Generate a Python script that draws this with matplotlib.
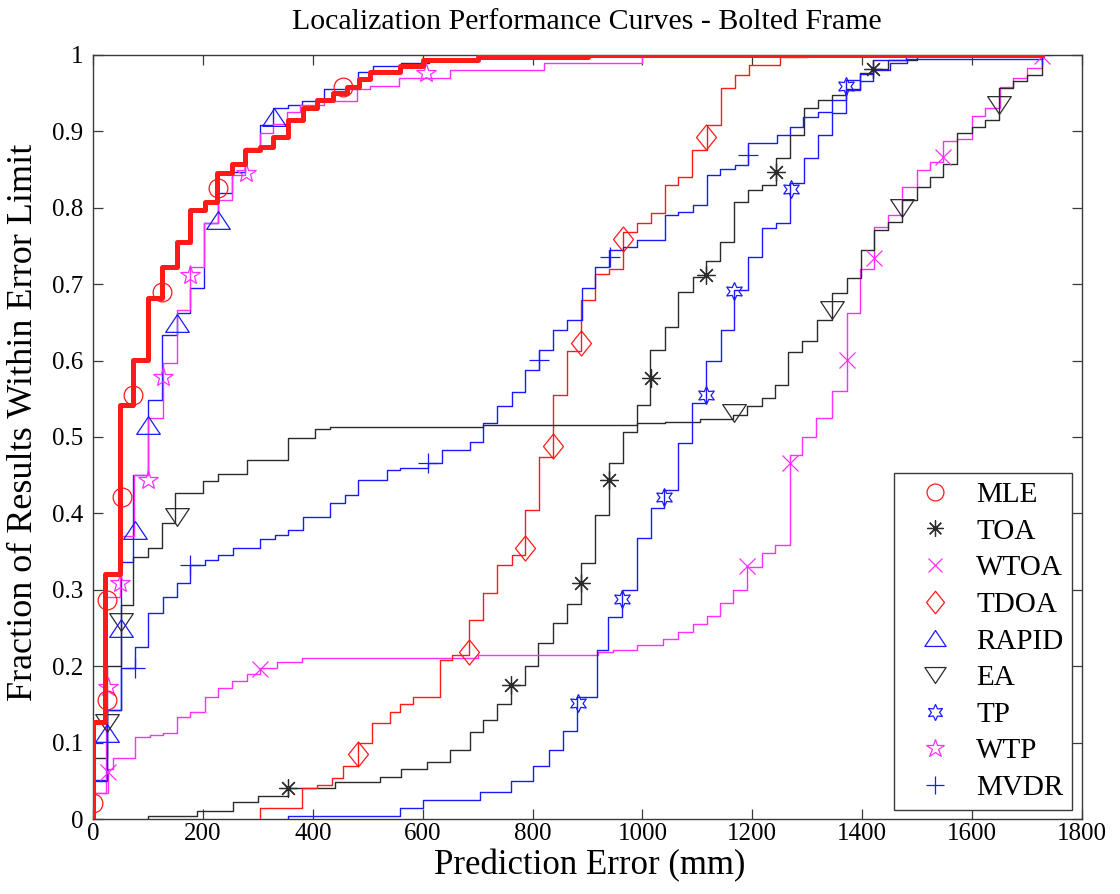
import matplotlib
matplotlib.use("Agg")
import matplotlib.pyplot as plt
from matplotlib.lines import Line2D
from matplotlib.path import Path

# ---- data (x = prediction error in mm, y = CDF) ----
mle_x = [0, 0, 22, 49, 73, 100, 126, 153, 177, 203, 226, 253, 277, 304, 328, 355, 382, 408, 437, 462,
         485, 504, 559, 600, 700, 900, 1727]
mle_y = [0, 0.127, 0.321, 0.542, 0.601, 0.682, 0.722, 0.755, 0.797, 0.807, 0.845, 0.857, 0.876, 0.88,
         0.893, 0.915, 0.93, 0.941, 0.95, 0.958, 0.968, 0.978, 0.985, 0.993, 0.998, 1.0, 1.0]
mle_mx = [0, 25, 25, 53, 73, 126, 228, 455]
mle_my = [0.021, 0.156, 0.287, 0.421, 0.555, 0.69, 0.826, 0.958]

toa_x = [100, 100, 189, 255, 300, 355, 440, 522, 560, 608, 650, 686, 710, 736, 760, 786, 810, 837, 862,
         888, 914, 939, 965, 990, 1014, 1041, 1065, 1092, 1116, 1141, 1167, 1192, 1218, 1243, 1269, 1294,
         1320, 1345, 1370, 1396, 1420, 1447, 1500, 1727]
toa_y = [0, 0.004, 0.01, 0.022, 0.03, 0.04, 0.048, 0.055, 0.065, 0.075, 0.09, 0.114, 0.13, 0.15, 0.175,
         0.2, 0.23, 0.256, 0.282, 0.335, 0.398, 0.466, 0.507, 0.542, 0.614, 0.644, 0.69, 0.71, 0.73, 0.755,
         0.808, 0.823, 0.83, 0.865, 0.895, 0.93, 0.941, 0.948, 0.955, 0.976, 0.982, 0.993, 1.0, 1.0]
toa_mx = [355, 760, 888, 939, 1015, 1116, 1243, 1420]
toa_my = [0.041, 0.175, 0.309, 0.444, 0.577, 0.712, 0.847, 0.982]

wtoa_x = [0, 0, 27, 36, 76, 104, 127, 153, 177, 204, 228, 253, 280, 304, 335, 380, 700, 920, 946, 990,
          1038, 1065, 1092, 1117, 1141, 1165, 1190, 1218, 1241, 1268, 1290, 1316, 1345, 1372, 1396, 1421,
          1447, 1472, 1499, 1523, 1547, 1572, 1600, 1623, 1650, 1675, 1700, 1727]
wtoa_y = [0, 0.034, 0.065, 0.08, 0.107, 0.11, 0.112, 0.134, 0.14, 0.16, 0.171, 0.18, 0.19, 0.198, 0.205,
          0.211, 0.215, 0.218, 0.221, 0.228, 0.236, 0.245, 0.255, 0.266, 0.283, 0.30, 0.33, 0.348, 0.359,
          0.476, 0.50, 0.525, 0.56, 0.662, 0.72, 0.775, 0.79, 0.827, 0.85, 0.86, 0.887, 0.89, 0.92, 0.93,
          0.958, 0.97, 0.983, 1.0]
wtoa_mx = [27, 304, 1190, 1268, 1372, 1421, 1547, 1727]
wtoa_my = [0.062, 0.196, 0.331, 0.466, 0.601, 0.734, 0.867, 0.999]

tdoa_x = [304, 304, 380, 407, 435, 455, 482, 508, 540, 559, 583, 632, 653, 684, 710, 736, 762, 786, 812,
          837, 862, 888, 914, 939, 965, 990, 1016, 1041, 1065, 1090, 1117, 1143, 1168, 1194, 1250, 1300, 1727]
tdoa_y = [0, 0.014, 0.04, 0.045, 0.054, 0.07, 0.1, 0.126, 0.14, 0.15, 0.16, 0.208, 0.215, 0.26, 0.296,
          0.332, 0.345, 0.404, 0.474, 0.555, 0.612, 0.679, 0.714, 0.72, 0.768, 0.78, 0.793, 0.83, 0.84,
          0.876, 0.908, 0.957, 0.974, 0.987, 0.997, 1.0, 1.0]
tdoa_mx = [482, 684, 786, 837, 888, 965, 1116]
tdoa_my = [0.085, 0.219, 0.355, 0.488, 0.623, 0.759, 0.893]

rapid_x = [0, 0, 25, 51, 73, 100, 126, 153, 177, 202, 228, 253, 277, 304, 328, 355, 380, 420, 482, 510,
           560, 612, 700, 1727]
rapid_y = [0, 0.051, 0.143, 0.336, 0.45, 0.548, 0.634, 0.662, 0.695, 0.78, 0.82, 0.847, 0.878, 0.908,
           0.93, 0.935, 0.94, 0.955, 0.978, 0.985, 0.99, 0.995, 1.0, 1.0]
rapid_mx = [25, 51, 76, 100, 153, 228, 330]
rapid_my = [0.112, 0.25, 0.378, 0.516, 0.649, 0.784, 0.919]

ea_x = [0, 0, 25, 51, 73, 100, 126, 149, 200, 228, 280, 355, 404, 431, 710, 990, 1041, 1105, 1165, 1190,
        1218, 1241, 1265, 1290, 1318, 1345, 1372, 1398, 1421, 1447, 1472, 1499, 1523, 1547, 1572, 1600,
        1623, 1649, 1675, 1700, 1727]
ea_y = [0, 0.08, 0.2, 0.28, 0.343, 0.355, 0.387, 0.427, 0.443, 0.452, 0.47, 0.499, 0.51, 0.513, 0.516,
        0.518, 0.52, 0.523, 0.529, 0.54, 0.551, 0.568, 0.611, 0.625, 0.653, 0.688, 0.708, 0.745, 0.771,
        0.781, 0.81, 0.827, 0.84, 0.857, 0.898, 0.906, 0.915, 0.957, 0.966, 0.974, 1.0]
ea_mx = [25, 51, 153, 1167, 1345, 1472, 1649]
ea_my = [0.126, 0.258, 0.395, 0.531, 0.666, 0.80, 0.935]

tp_x = [355, 355, 559, 601, 704, 760, 800, 830, 855, 880, 918, 938, 963, 990, 1015, 1040, 1065, 1090,
        1116, 1143, 1167, 1192, 1218, 1243, 1269, 1294, 1320, 1345, 1371, 1396, 1420, 1480, 1727]
tp_y = [0, 0.004, 0.014, 0.025, 0.035, 0.05, 0.07, 0.09, 0.115, 0.16, 0.221, 0.265, 0.30, 0.368, 0.407,
        0.43, 0.492, 0.545, 0.60, 0.64, 0.692, 0.736, 0.773, 0.78, 0.832, 0.865, 0.895, 0.924, 0.967,
        0.975, 0.993, 1.0, 1.0]
tp_mx = [883, 963, 1040, 1116, 1167, 1270, 1371]
tp_my = [0.152, 0.288, 0.422, 0.555, 0.691, 0.825, 0.96]

wtp_x = [0, 0, 23, 49, 75, 100, 127, 153, 177, 202, 228, 253, 277, 304, 328, 353, 377, 420, 480, 505,
         557, 650, 820, 1000, 1727]
wtp_y = [0, 0.034, 0.29, 0.371, 0.45, 0.525, 0.597, 0.666, 0.722, 0.78, 0.81, 0.843, 0.876, 0.898, 0.91,
         0.925, 0.935, 0.94, 0.955, 0.96, 0.97, 0.98, 0.99, 1.0, 1.0]
wtp_mx = [27, 49, 100, 127, 177, 278, 606]
wtp_my = [0.173, 0.309, 0.444, 0.579, 0.712, 0.846, 0.976]

mvdr_x = [0, 0, 25, 51, 76, 100, 127, 153, 177, 204, 228, 255, 304, 331, 355, 382, 431, 459, 482, 535,
          559, 610, 635, 686, 710, 735, 762, 786, 812, 837, 862, 890, 914, 939, 965, 990, 1041, 1065, 1092,
          1117, 1141, 1168, 1192, 1245, 1269, 1292, 1320, 1345, 1371, 1396, 1420, 1450, 1481, 1727]
mvdr_y = [0, 0.05, 0.143, 0.198, 0.225, 0.27, 0.29, 0.309, 0.332, 0.339, 0.345, 0.355, 0.366, 0.372,
          0.378, 0.395, 0.413, 0.424, 0.444, 0.457, 0.46, 0.466, 0.483, 0.493, 0.518, 0.54, 0.559, 0.588,
          0.614, 0.64, 0.653, 0.695, 0.722, 0.745, 0.749, 0.758, 0.79, 0.795, 0.804, 0.843, 0.851, 0.856,
          0.885, 0.895, 0.906, 0.919, 0.926, 0.941, 0.954, 0.966, 0.98, 0.99, 0.995, 1.0]
mvdr_mx = [76, 177, 610, 812, 941, 1192, 1727]
mvdr_my = [0.197, 0.332, 0.466, 0.601, 0.736, 0.869, 1.0]

x_ticks = [0, 200, 400, 600, 800, 1000, 1200, 1400, 1600, 1800]
y_ticks = [0, 0.1, 0.2, 0.3, 0.4, 0.5, 0.6, 0.7, 0.8, 0.9, 1.0]
y_ticklabels = ["0", "0.1", "0.2", "0.3", "0.4", "0.5", "0.6", "0.7", "0.8", "0.9", "1"]

RED = "#ff1a1a"
BLACK = "#2b2b2b"
BLUE = "#1a1aff"
MAG = "#ff2eff"

# MATLAB-like marker shapes
TRI_UP = Path([(0, 0.75), (-1, -0.75), (1, -0.75), (0, 0.75)], closed=True)
TRI_DN = Path([(0, -0.75), (-1, 0.75), (1, 0.75), (0, -0.75)], closed=True)
DIAM = Path([(0, 1), (0.8, 0), (0, -1), (-0.8, 0), (0, 1)], closed=True)

series = [
    # name, x, y, mx, my, color, marker, msize, lw
    ("MLE", mle_x, mle_y, mle_mx, mle_my, RED, "o", 13.5, 3.6),
    ("TOA", toa_x, toa_y, toa_mx, toa_my, BLACK, (8, 2, 0), 13, 1.0),
    ("WTOA", wtoa_x, wtoa_y, wtoa_mx, wtoa_my, MAG, "x", 11, 1.0),
    ("TDOA", tdoa_x, tdoa_y, tdoa_mx, tdoa_my, RED, DIAM, 18, 1.0),
    ("RAPID", rapid_x, rapid_y, rapid_mx, rapid_my, BLUE, TRI_UP, 17, 1.0),
    ("EA", ea_x, ea_y, ea_mx, ea_my, BLACK, TRI_DN, 17, 1.0),
    ("TP", tp_x, tp_y, tp_mx, tp_my, BLUE, (6, 1, 0), 13, 1.0),
    ("WTP", wtp_x, wtp_y, wtp_mx, wtp_my, MAG, "*", 15, 1.0),
    ("MVDR", mvdr_x, mvdr_y, mvdr_mx, mvdr_my, BLUE, "+", 15, 1.0),
]

plt.rcParams.update({
    "font.family": "Liberation Serif", "font.size": 19, "axes.linewidth": 1.0,
    "axes.edgecolor": "#3a3a3a", "xtick.color": "#3a3a3a", "ytick.color": "#3a3a3a",
    "xtick.labelcolor": "black", "ytick.labelcolor": "black",
})

fig = plt.figure(figsize=(11.2, 8.94), dpi=100)
ax = fig.add_axes([93 / 1120, 1 - 819 / 894, 989 / 1120, 764 / 894])

handles = []
for name, x, y, mx, my, c, m, ms, lw in series:
    z = 5 if name == "MLE" else 3
    ax.plot(x, y, drawstyle="steps-post", color=c, lw=lw, zorder=z)
    ax.plot(mx, my, ls="none", marker=m, ms=ms, mfc="none", mec=c, mew=0.9, zorder=z + 1)
    handles.append(Line2D([], [], ls="none", marker=m, ms=ms * 0.9, mfc="none", mec=c, mew=0.9, label=name))

ax.set_xlim(0, 1800)
ax.set_ylim(0, 1)
ax.set_xticks(x_ticks)
ax.set_yticks(y_ticks)
ax.set_yticklabels(y_ticklabels)
ax.tick_params(direction="in", length=7, width=0.9, top=True, right=True, labelsize=18)
ax.tick_params(axis="x", pad=3)
ax.tick_params(axis="y", pad=7)

leg = ax.legend(handles=handles, loc="lower right", bbox_to_anchor=(0.990, 0.012), borderaxespad=0,
                frameon=True, fancybox=False, framealpha=1, edgecolor="#3a3a3a", fontsize=21,
                handlelength=2.2, handletextpad=0.3, labelspacing=0.35, borderpad=0.3)
leg.get_frame().set_linewidth(1.0)

fig.text(587 / 1120, 1 - 22 / 894, "Localization Performance Curves - Bolted Frame",
         ha="center", va="center", fontsize=21.5)
fig.text(590 / 1120, 1 - 849 / 894, "Prediction Error (mm)", ha="center", va="top", fontsize=25)
fig.text(24 / 1120, 1 - 422 / 894, "Fraction of Results Within Error Limit", ha="center", va="center",
         rotation=90, fontsize=26)

fig.savefig("out.png", dpi=100)
